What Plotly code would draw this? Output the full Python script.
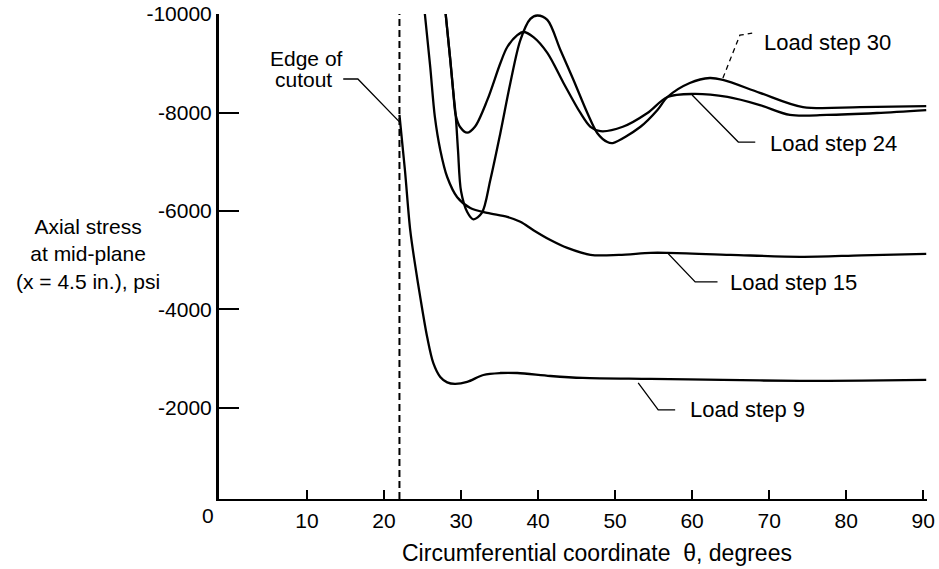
import plotly.graph_objects as go

# ---- data (theta in degrees, axial stress in psi) ----
ls9_theta = [22.0, 22.7, 23.4, 24.0, 24.7, 25.6, 26.4, 27.3, 28.2, 29.2, 30.8, 32.9, 35.1, 37.3,
             41.6, 45.8, 54.6, 64.0, 74.0, 82.0, 90.4]
ls9_stress = [-7950, -6850, -5610, -4940, -4250, -3440, -2910, -2630, -2520, -2490, -2530, -2670,
              -2710, -2710, -2650, -2610, -2590, -2570, -2550, -2555, -2570]

ls15_theta = [25.3, 26.0, 26.6, 27.3, 28.2, 29.5, 31.2, 33.4, 36.0, 37.7, 39.4, 41.6, 43.8, 46.8,
              50.5, 54.6, 56.8, 65.0, 74.0, 82.0, 90.4]
ls15_stress = [-10000, -8920, -7910, -7240, -6690, -6280, -6060, -5960, -5880, -5780, -5610, -5410,
               -5250, -5110, -5110, -5150, -5150, -5110, -5070, -5100, -5130]

ls24_theta = [28.0, 28.6, 29.0, 29.3, 29.9, 30.8, 31.8, 33.4, 35.1, 36.0, 37.3, 38.1, 39.4, 41.2,
              43.3, 45.5, 46.8, 48.1, 51.0, 54.2, 56.8, 60.1, 64.6, 68.8, 72.7, 77.5, 84.0, 90.4]
ls24_stress = [-10000, -9070, -8400, -7950, -7700, -7590, -7710, -8250, -9000, -9330, -9570, -9635,
               -9530, -9210, -8600, -7990, -7710, -7620, -7710, -7990, -8315, -8376, -8315, -8150,
               -7950, -7950, -7990, -8050]

ls30_theta = [28.0, 28.6, 29.0, 29.3, 29.6, 30.0, 30.8, 31.6, 32.7, 33.8, 35.1, 36.4, 37.7, 39.0,
              39.9, 41.2, 42.9, 44.6, 46.4, 47.7, 49.0, 49.7, 53.3, 55.5, 56.8, 59.7, 62.3, 64.0,
              68.8, 74.4, 81.8, 90.4]
ls30_stress = [-10000, -9070, -8400, -7950, -7240, -6400, -5980, -5830, -5960, -6630, -7580, -8600,
               -9470, -9900, -9970, -9880, -9270, -8660, -7990, -7580, -7400, -7380, -7710, -8050,
               -8315, -8600, -8700, -8660, -8400, -8110, -8110, -8130]

cutout_theta = 22.0

x_ticks = [10, 20, 30, 40, 50, 60, 70, 80, 90]
y_ticks = [-10000, -8000, -6000, -4000, -2000]
y_tick_text = ["-10000", "-8000", "-6000", "-4000", "-2000"]

# label anchor points (data coords) and leader lines
labels = [
    ("Load step 30", 69.1, -9430),
    ("Load step 24", 69.9, -7380),
    ("Load step 15", 64.6, -4540),
    ("Load step 9", 59.5, -1960),
]
leaders = [
    ([64.0, 66.2, 67.8], [-8700, -9570, -9610], "dash"),
    ([60.0, 66.0, 68.2], [-8355, -7400, -7400], "solid"),
    ([56.8, 60.4, 63.3], [-5150, -4560, -4560], "solid"),
    ([53.0, 55.6, 57.8], [-2510, -1960, -1960], "solid"),
    ([14.7, 16.6, 22.0], [-8680, -8680, -7810], "solid"),
]

X_RANGE = [-1.43, 90.5]
Y_RANGE = [-152, -10000]

FONT = "Liberation Sans, Arial, Helvetica, sans-serif"

fig = go.Figure()

curve_style = dict(color="black", width=2.3, shape="spline", smoothing=0.9)
for th, st in [(ls9_theta, ls9_stress), (ls15_theta, ls15_stress),
               (ls24_theta, ls24_stress), (ls30_theta, ls30_stress)]:
    fig.add_trace(go.Scatter(x=th, y=st, mode="lines", line=curve_style, hoverinfo="skip"))

# edge of cutout dashed line
fig.add_trace(go.Scatter(x=[cutout_theta, cutout_theta], y=[Y_RANGE[0], Y_RANGE[1]], mode="lines",
                         line=dict(color="black", width=2, dash="7px,4px"), hoverinfo="skip"))

for lx, ly, d in leaders:
    fig.add_trace(go.Scatter(x=lx, y=ly, mode="lines",
                             line=dict(color="black", width=1.3, dash=("5px,4px" if d == "dash" else "solid")),
                             hoverinfo="skip"))

for txt, lx, ly in labels:
    fig.add_annotation(x=lx, y=ly, xref="x", yref="y", text=txt, showarrow=False,
                       xanchor="left", yanchor="middle", font=dict(family=FONT, size=22, color="black"))

fig.add_annotation(x=9.9, y=-9100, xref="x", yref="y", text="Edge of", showarrow=False,
                   xanchor="center", yanchor="middle", font=dict(family=FONT, size=21, color="black"))
fig.add_annotation(x=9.6, y=-8660, xref="x", yref="y", text="cutout", showarrow=False,
                   xanchor="center", yanchor="middle", font=dict(family=FONT, size=21, color="black"))

# texts outside the plotting area, placed in paper coordinates
fig.add_annotation(x=-0.185, y=0.505, xref="paper", yref="paper",
                   text="Axial stress<br>at mid-plane<br>(x = 4.5 in.), psi", showarrow=False,
                   xanchor="center", yanchor="middle", align="center",
                   font=dict(family=FONT, size=21, color="black"))

fig.add_annotation(x=0.534, y=-0.111, xref="paper", yref="paper",
                   text="Circumferential coordinate  θ, degrees", showarrow=False,
                   xanchor="center", yanchor="middle",
                   font=dict(family=FONT, size=23, color="black"))

fig.add_annotation(x=-0.0162, y=-0.033, xref="paper", yref="paper", text="0", showarrow=False,
                   xanchor="center", yanchor="middle",
                   font=dict(family=FONT, size=21, color="black"))

fig.update_layout(
    width=939, height=569,
    margin=dict(l=219, r=12, t=14, b=70),
    plot_bgcolor="white", paper_bgcolor="white",
    showlegend=False, hovermode=False,
    font=dict(family=FONT, size=21, color="black"),
)
fig.update_xaxes(range=X_RANGE, tickvals=x_ticks, ticks="inside", ticklen=9, tickwidth=1.5,
                 tickcolor="black", showline=True, linecolor="black", linewidth=2,
                 showgrid=False, zeroline=False, ticklabelstandoff=2, automargin=False,
                 tickfont=dict(family=FONT, size=21, color="black"))
fig.update_yaxes(range=Y_RANGE, tickvals=y_ticks, ticktext=y_tick_text, ticks="inside", ticklen=20,
                 tickwidth=1.5, tickcolor="black", showline=True, linecolor="black", linewidth=3,
                 showgrid=False, zeroline=False, ticklabelstandoff=0, automargin=False,
                 tickfont=dict(family=FONT, size=21, color="black"))

# remove the default page margin so the figure fills the window exactly
fig.write_html("out.html", config={"displayModeBar": False},
               post_script="document.body.style.margin='0px';document.body.style.overflow='hidden';")
